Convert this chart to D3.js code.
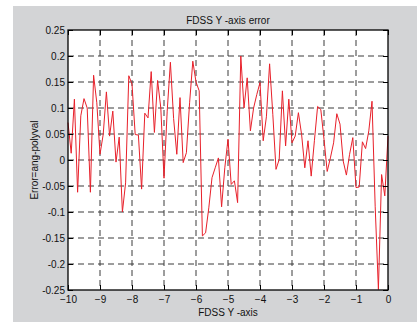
<html>
<head>
  <meta charset="utf-8">
  <title>FDSS Y -axis error</title>
  <script src="https://d3js.org/d3.v7.min.js"></script>
  <style>
    body { margin: 0; background: #ffffff; }
    text { font-family: "Liberation Sans", Arial, sans-serif; }
  </style>
</head>
<body>
  <svg id="chart" width="417" height="323"></svg>
  <script>
    var errVals = [
      0.072, 0.013, 0.117, -0.062, 0.085, 0.118, 0.100, -0.062, 0.163, 0.110,
      0.011, 0.049, 0.131, 0.046, 0.094, -0.004, 0.044, -0.100, -0.044, 0.162,
      0.146, 0.049, 0.048, -0.056, 0.090, 0.081, 0.170, 0.053, 0.153, 0.100,
      -0.035, 0.094, 0.188, 0.080, 0.011, 0.120, -0.005, 0.014, 0.110, 0.190,
      0.150, 0.133, -0.146, -0.140, -0.092, -0.034, -0.015, 0.004, -0.090, -0.015,
      0.040, -0.047, -0.040, -0.082, 0.200, 0.100, 0.158, 0.056, 0.100, 0.126,
      0.149, 0.037, 0.083, 0.185, 0.088, -0.018, 0.001, 0.133, 0.027, 0.117,
      0.033, 0.046, 0.091, 0.049, -0.015, 0.037, -0.031, 0.037, 0.103, 0.097,
      0.040, -0.022, 0.004, 0.033, 0.089, 0.069, -0.002, -0.029, 0.011, 0.043,
      -0.053, -0.052, 0.035, 0.022, 0.056, 0.113, -0.090, -0.249, -0.028, -0.069,
      0.046
    ];
    var xStart = -10, xStep = 0.1;
    var xTicks = [-10, -9, -8, -7, -6, -5, -4, -3, -2, -1, 0];
    var yTicks = [0.25, 0.2, 0.15, 0.1, 0.05, 0, -0.05, -0.1, -0.15, -0.2, -0.25];

    var points = errVals.map(function (v, i) { return { x: xStart + i * xStep, y: v }; });

    var svg = d3.select("#chart");
    var margin = { left: 68, top: 30, right: 29, bottom: 33 };
    var W = 417, H = 323;
    var width = W - margin.left - margin.right,
      height = H - margin.top - margin.bottom;

    // grey figure background
    svg.append("rect")
      .attr("x", 13).attr("y", 6)
      .attr("width", W - 13).attr("height", H - 7)
      .attr("fill", "#d3d4d6");

    var g = svg.append("g")
      .attr("transform", "translate(" + margin.left + "," + margin.top + ")");

    var x = d3.scaleLinear().domain([-10, 0]).range([0, width]);
    var y = d3.scaleLinear().domain([-0.25, 0.25]).range([height, 0]);

    g.append("rect")
      .attr("width", width).attr("height", height)
      .attr("fill", "#ffffff");

    // dashed grid
    g.selectAll(".vgrid")
      .data(xTicks.slice(1, -1))
      .enter().append("line")
      .attr("x1", d => x(d)).attr("x2", d => x(d))
      .attr("y1", 0).attr("y2", height)
      .attr("stroke", "#3a3a3a").attr("stroke-width", 1)
      .attr("stroke-dasharray", "6,4");

    g.selectAll(".hgrid")
      .data(yTicks.slice(1, -1))
      .enter().append("line")
      .attr("x1", 0).attr("x2", width)
      .attr("y1", d => y(d)).attr("y2", d => y(d))
      .attr("stroke", "#3a3a3a").attr("stroke-width", 1)
      .attr("stroke-dasharray", "6,4");

    // the error curve
    var line = d3.line().x(d => x(d.x)).y(d => y(d.y));
    g.append("path")
      .datum(points)
      .attr("d", line)
      .attr("fill", "none")
      .attr("stroke", "#e8202a")
      .attr("stroke-width", 1)
      .attr("stroke-linejoin", "miter");

    // axes with inward ticks on all four sides
    var fmtX = d => d3.format("d")(d);
    var fmtY = d => String(d);

    var xAxis = g.append("g")
      .attr("transform", "translate(0," + height + ")")
      .call(d3.axisBottom(x).tickValues(xTicks).tickFormat(fmtX).tickSizeInner(-5).tickSizeOuter(0).tickPadding(6));
    var yAxis = g.append("g")
      .call(d3.axisLeft(y).tickValues(yTicks).tickFormat(fmtY).tickSizeInner(-5).tickSizeOuter(0).tickPadding(3));
    g.append("g")
      .call(d3.axisTop(x).tickValues(xTicks).tickFormat("").tickSizeInner(-5).tickSizeOuter(0));
    g.append("g")
      .attr("transform", "translate(" + width + ",0)")
      .call(d3.axisRight(y).tickValues(yTicks).tickFormat("").tickSizeInner(-5).tickSizeOuter(0));

    g.selectAll(".domain").remove();
    g.selectAll(".tick line").attr("stroke", "#000");
    g.selectAll(".tick text")
      .attr("fill", "#111")
      .style("font-size", "10px");
    xAxis.selectAll(".tick text").attr("dy", "0.71em");

    g.append("rect")
      .attr("width", width).attr("height", height)
      .attr("fill", "none")
      .attr("stroke", "#000")
      .attr("stroke-width", 1.3);

    // title and labels
    svg.append("text")
      .attr("x", margin.left + width / 2).attr("y", 24)
      .attr("text-anchor", "middle")
      .style("font-size", "10px").attr("fill", "#111")
      .text("FDSS Y -axis error");

    svg.append("text")
      .attr("x", margin.left + width / 2).attr("y", 316)
      .attr("text-anchor", "middle")
      .style("font-size", "10px").attr("fill", "#111")
      .text("FDSS Y -axis");

    svg.append("text")
      .attr("transform", "translate(38," + (margin.top + height / 2) + ") rotate(-90)")
      .attr("text-anchor", "middle")
      .style("font-size", "10px").attr("fill", "#111")
      .text("Error=ang-polyval");
  </script>
</body>
</html>
